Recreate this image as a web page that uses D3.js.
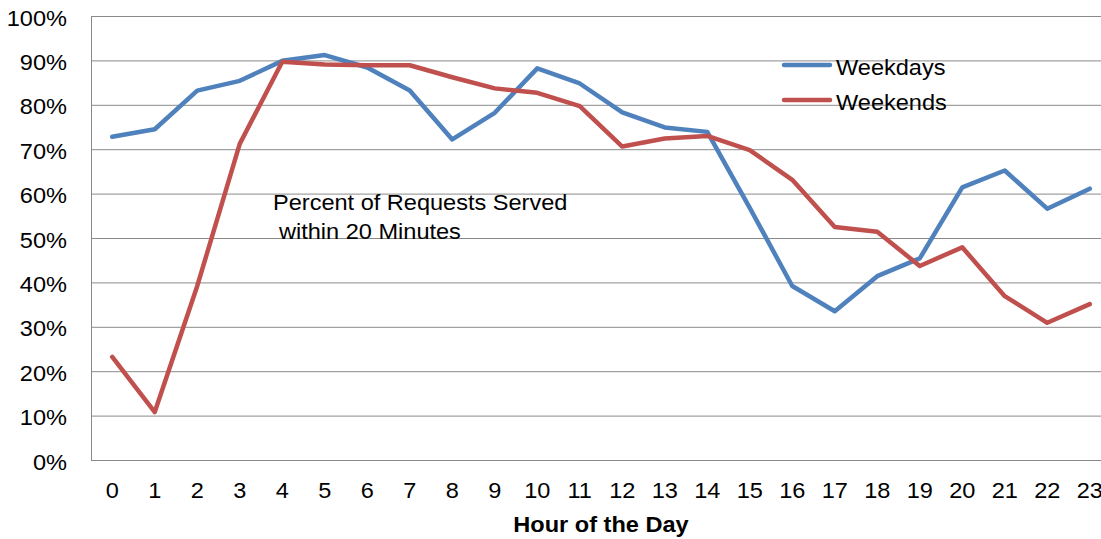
<!DOCTYPE html>
<html>
<head>
<meta charset="utf-8">
<script src="https://cdn.jsdelivr.net/npm/d3@7"></script>
<style>
  body { margin: 0; background: #fff; }
  svg { display: block; font-family: "Liberation Sans", Arial, sans-serif; }
</style>
</head>
<body>
<svg id="chart" width="1101" height="539"></svg>
<script>
// ===== DATA =====
const hours = [0, 1, 2, 3, 4, 5, 6, 7, 8, 9, 10, 11, 12, 13, 14, 15, 16, 17, 18, 19, 20, 21, 22, 23];
const weekdays = [72.8, 74.5, 83.2, 85.4, 89.9, 91.2, 88.4, 83.2, 72.2, 78.2, 88.2, 84.8,
                  78.3, 74.9, 73.9, 56.8, 39.2, 33.5, 41.4, 45.4, 61.4, 65.2, 56.6, 61.1];
const weekends = [23.2, 10.8, 39.2, 71.2, 89.7, 89.1, 88.9, 88.9, 86.2, 83.7, 82.7, 79.7,
                  70.6, 72.4, 73.0, 69.8, 63.1, 52.5, 51.4, 43.7, 47.9, 36.9, 30.9, 35.1];
const yTicks = [0, 10, 20, 30, 40, 50, 60, 70, 80, 90, 100];
const seriesNames = ["Weekdays", "Weekends"];
const seriesColors = ["#4F81BD", "#C0504D"];

// ===== LAYOUT =====
const svg = d3.select("#chart");
const plotLeft = 91, plotRight = 1111, plotTop = 16, plotBottom = 460;
const gridColor = "#8a8a8a";
const fontSize = 22;

const x = d3.scalePoint().domain(hours).range([plotLeft, plotRight]).padding(0.5);
const y = d3.scaleLinear().domain([0, 100]).range([plotBottom, plotTop]);

// gridlines
svg.append("g")
  .selectAll("line")
  .data(yTicks)
  .join("line")
  .attr("x1", plotLeft)
  .attr("x2", 1101)
  .attr("y1", d => y(d) + 0.5)
  .attr("y2", d => y(d) + 0.5)
  .attr("stroke", gridColor)
  .attr("stroke-width", 1);

// y axis line
svg.append("line")
  .attr("x1", plotLeft + 0.5).attr("x2", plotLeft + 0.5)
  .attr("y1", plotTop).attr("y2", plotBottom + 1)
  .attr("stroke", gridColor);

// y labels
svg.append("g")
  .selectAll("text")
  .data(yTicks)
  .join("text")
  .attr("class", "stretch")
  .attr("x", 67)
  .attr("y", d => y(d) + 9.5)
  .attr("text-anchor", "end")
  .attr("font-size", fontSize)
  .attr("fill", "#000")
  .text(d => d + "%");

// x labels
svg.append("g")
  .selectAll("text")
  .data(hours)
  .join("text")
  .attr("class", "stretch")
  .attr("x", d => x(d))
  .attr("y", 498)
  .attr("text-anchor", "middle")
  .attr("font-size", fontSize)
  .attr("fill", "#000")
  .text(d => d);

// x axis title
svg.append("text")
  .attr("class", "stretch")
  .attr("x", (plotLeft + plotRight) / 2)
  .attr("y", 532)
  .attr("text-anchor", "middle")
  .attr("font-size", fontSize)
  .attr("font-weight", "bold")
  .text("Hour of the Day");

// ===== LINES =====
const line = d3.line()
  .x((d, i) => x(hours[i]))
  .y(d => y(d));

[weekdays, weekends].forEach((vals, i) => {
  svg.append("path")
    .datum(vals)
    .attr("d", line)
    .attr("fill", "none")
    .attr("stroke", seriesColors[i])
    .attr("stroke-width", 4.5)
    .attr("stroke-linejoin", "round")
    .attr("stroke-linecap", "round");
});

// ===== ANNOTATION =====
const note = svg.append("g").attr("font-size", fontSize);
note.append("text").attr("class", "stretch")
  .attr("x", 273).attr("y", 210).text("Percent of Requests Served");
note.append("text").attr("class", "stretch")
  .attr("x", 279).attr("y", 238.5).text("within 20 Minutes");

// ===== LEGEND =====
const legend = svg.append("g");
seriesNames.forEach((name, i) => {
  const ly = 65 + i * 35;
  legend.append("line")
    .attr("x1", 784).attr("x2", 830)
    .attr("y1", ly).attr("y2", ly)
    .attr("stroke", seriesColors[i])
    .attr("stroke-width", 4.5)
    .attr("stroke-linecap", "round");
  legend.append("text")
    .attr("class", "stretch")
    .attr("x", 836)
    .attr("y", ly + 9.5)
    .attr("font-size", fontSize)
    .text(name);
});

// widen text slightly to match the reference's horizontal stretch
svg.selectAll("text.stretch").each(function () {
  const w = this.getComputedTextLength();
  d3.select(this)
    .attr("textLength", w * 1.07)
    .attr("lengthAdjust", "spacingAndGlyphs");
});
</script>
</body>
</html>
